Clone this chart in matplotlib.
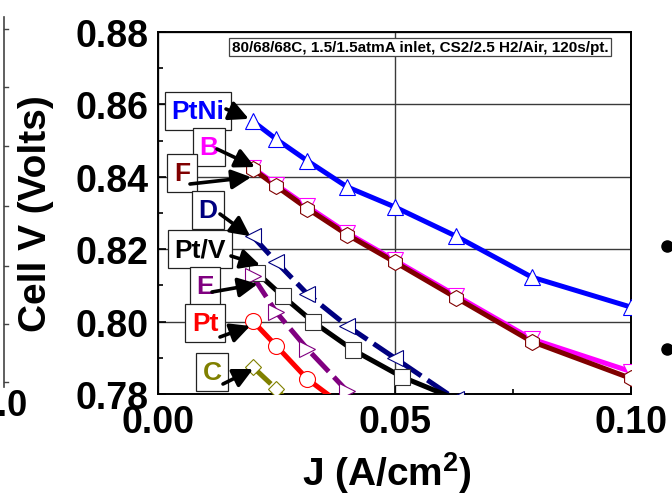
import matplotlib
matplotlib.use("Agg")
import matplotlib.pyplot as plt
import matplotlib.ticker as ticker
from matplotlib.lines import Line2D

plt.rcParams["font.family"] = ["Liberation Sans", "DejaVu Sans"]
plt.rcParams["font.weight"] = "bold"
plt.rcParams["mathtext.fontset"] = "custom"
plt.rcParams["mathtext.rm"] = "Liberation Sans:bold"
plt.rcParams["mathtext.bf"] = "Liberation Sans:bold"

# current density (A/cm2)
j_std  = [0.02, 0.025, 0.0316, 0.04, 0.05, 0.063, 0.079, 0.1]
j_ptv  = [0.021, 0.0264, 0.0328, 0.0412, 0.0516, 0.065]

# cell voltages (V)
v_ptni = [0.8554, 0.8504, 0.8444, 0.8372, 0.8317, 0.8236, 0.8123, 0.8040]
v_b    = [0.8425, 0.8378, 0.8318, 0.8245, 0.8170, 0.8072, 0.7952, 0.7862]
v_f    = [0.8422, 0.8374, 0.8312, 0.8240, 0.8165, 0.8066, 0.7945, 0.7843]
v_d    = [0.8236, 0.8165, 0.8076, 0.7988, 0.7900, 0.7785]
v_ptv  = [0.8134, 0.8070, 0.7999, 0.7922, 0.7847, 0.7775]
v_e    = [0.8126, 0.8026, 0.7924, 0.7808, 0.7670]
v_pt   = [0.8002, 0.7933, 0.7841, 0.7759]
v_c    = [0.7875, 0.7814, 0.7720]

title_txt = "80/68/68C, 1.5/1.5atmA inlet, CS2/2.5 H2/Air, 120s/pt."

W, H = 672, 502
fig = plt.figure(figsize=(W / 100, H / 100), dpi=100)
ax = fig.add_axes([158 / W, 1 - 395 / H, 473 / W, 362 / H])

dash = (0, (5, 1.5))
series = [
    # name, x, y, color, marker, linestyle
    ("PtNi", j_std, v_ptni, "#0000ff", "^", "-"),
    ("B",    j_std, v_b,    "#ff00ff", "v", "-"),
    ("F",    j_std, v_f,    "#800000", "h", "-"),
    ("D",    j_std, v_d,    "#000080", "<", dash),
    ("Pt/V", j_ptv, v_ptv,  "#000000", "s", "-"),
    ("E",    j_std, v_e,    "#800080", ">", dash),
    ("Pt",   j_std, v_pt,   "#ff0000", "o", "-"),
    ("C",    j_std, v_c,    "#808000", "D", dash),
]

for name, xs, ys, col, mk, ls in series:
    ax.plot(xs[:len(ys)], ys, color=col, lw=3.6, ls=ls, zorder=3)
    ax.plot(xs[:len(ys)], ys, ls="none", marker=mk, ms=11.5 if mk != "D" else 8,
            mfc="white", mec=col if mk != "s" else "#333333", mew=0.8, zorder=4)

# label boxes: text, box center (image px), arrow start (image px), arrow tip (data), color
labels = [
    ("PtNi", (198, 112), (226, 110), (0.0192, 0.8560), "#0000ff"),
    ("B",    (209, 148), (217, 150), (0.0205, 0.8427), "#ff00ff"),
    ("F",    (182, 174), (190, 185), (0.0197, 0.8399), "#800000"),
    ("D",    (208, 211), (220, 215), (0.0195, 0.8236), "#000080"),
    ("Pt/V", (200, 250), (231, 257), (0.0216, 0.8156), "#000000"),
    ("E",    (205, 287), (212, 293), (0.0211, 0.8104), "#800080"),
    ("Pt",   (205, 324), (220, 338), (0.0195, 0.7988), "#ff0000"),
    ("C",    (212, 373), (223, 385), (0.0201, 0.7869), "#808000"),
]
for txt, (bx, by), (sx, sy), tip, col in labels:
    ax.text(bx / W, 1 - by / H, txt, transform=fig.transFigure, ha="center",
            va="center", fontsize=19, color=col, fontweight="bold", zorder=6,
            bbox=dict(boxstyle="square,pad=0.25", fc="white", ec="#222222", lw=0.9))
    ax.annotate("", xy=tip, xycoords="data",
                xytext=(sx, H - sy), textcoords="figure pixels",
                arrowprops=dict(arrowstyle="-|>,head_length=0.9,head_width=0.45",
                                color="black", lw=2.6, shrinkA=0, shrinkB=0,
                                mutation_scale=13),
                zorder=7, annotation_clip=False)

ax.text((420 - 158) / 473, (395 - 48) / 362, title_txt, transform=ax.transAxes,
        ha="center", va="center", fontsize=11, fontweight="bold",
        bbox=dict(boxstyle="square,pad=0.15", fc="white", ec="#444444", lw=0.9), zorder=8)

ax.set_xlim(0, 0.10)
ax.set_ylim(0.78, 0.88)
ax.set_xticks([0.00, 0.05, 0.10])
ax.set_yticks([0.78, 0.80, 0.82, 0.84, 0.86, 0.88])
ax.xaxis.set_major_formatter(ticker.FormatStrFormatter("%.2f"))
ax.yaxis.set_major_formatter(ticker.FormatStrFormatter("%.2f"))
ax.xaxis.set_minor_locator(ticker.AutoMinorLocator(2))
ax.yaxis.set_minor_locator(ticker.AutoMinorLocator(2))
ax.tick_params(which="major", direction="in", length=6, width=1.2, labelsize=27, pad=7)
ax.tick_params(which="minor", direction="in", length=3.5, width=1.2)
for lab in ax.get_xticklabels() + ax.get_yticklabels():
    lab.set_fontweight("bold")
ax.grid(True, which="major", color="#3a3a3a", lw=1.0, zorder=1)
for s in ax.spines.values():
    s.set_linewidth(1.4)

ax.set_ylabel("Cell V (Volts)", fontsize=28, fontweight="bold")
ax.set_xlabel(r"J (A/cm$^2$)", fontsize=28, fontweight="bold")
ax.yaxis.set_label_coords((54 - 158) / 473, 0.5)
ax.xaxis.set_label_coords((387 - 158) / 473, (395 - 450) / 362)

# fragments of neighbouring slide content
fig.add_artist(Line2D([4 / W, 4 / W], [1 - 18 / H, 1 - 388 / H], color="#444444",
                      lw=1.2, transform=fig.transFigure))
for ty in [30, 88, 147, 207, 267, 325, 383]:
    fig.add_artist(Line2D([4 / W, 8 / W], [1 - ty / H, 1 - ty / H], color="#444444",
                          lw=1.0, transform=fig.transFigure))
fig.text(28 / W, 1 - 407 / H, "1.0", ha="right", va="center", fontsize=26, fontweight="bold")
for by in [247, 350]:
    fig.add_artist(Line2D([667 / W], [1 - by / H], marker="o", ms=8, color="black",
                          transform=fig.transFigure))

plt.savefig("out.png", dpi=100)
